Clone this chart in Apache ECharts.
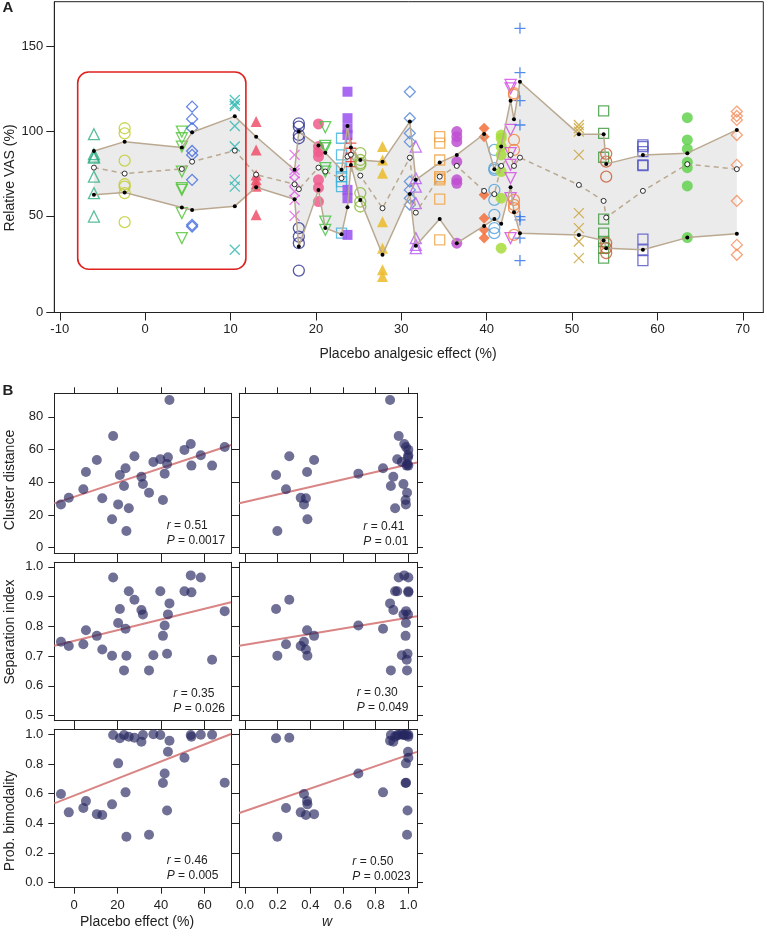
<!DOCTYPE html>
<html><head><meta charset="utf-8">
<script src="https://cdn.jsdelivr.net/npm/echarts@6/dist/echarts.min.js"></script>
<style>html,body{margin:0;padding:0;background:#fff}#c{width:766px;height:933px}</style>
</head><body><div id="c"></div>
<script>
// ---------- DATA ----------
const subjectX = [-6.0, -2.4, 4.3, 5.5, 10.5, 13.0, 17.5, 18.0, 20.3, 21.1, 23.0, 23.7, 24.1, 25.2, 27.8, 31.0, 31.7, 34.5, 36.5, 39.7, 40.9, 41.7, 42.8, 43.2, 43.9, 50.8, 53.7, 54.0, 58.3, 63.5, 69.3];
const vasValues = [
  [98.1, 86.3, 84.9, 84.3, 73.1, 63.4, 49.6],
  [101.6, 98.6, 82.5, 68.6, 67.2, 63.4, 46.3],
  [99.6, 95.7, 90.8, 76.1, 66.3, 65.3, 51.6, 36.9],
  [114.3, 107.1, 101.6, 88.2, 85.9, 71.2, 44.7, 43.7],
  [118.2, 115.9, 114.7, 102.9, 90.8, 71.2, 67.2, 30.0],
  [105.5, 88.8, 74.1, 71.2, 68.8, 67.5, 50.6],
  [85.9, 77.1, 75.1, 70.2, 64.3, 59.4, 50.0],
  [104.5, 102.5, 97.6, 95.7, 42.8, 37.8, 33.9, 17.8],
  [104.1, 90.8, 87.8, 84.9, 71.2, 66.6, 58.4],
  [102.2, 91.2, 89.8, 78.1, 76.1, 46.6, 41.8],
  [95.7, 85.9, 78.1, 73.1, 70.2, 67.2, 39.8],
  [123.1, 107.5, 101.6, 97.6, 65.3, 60.4, 38.8],
  [92.8, 89.8, 86.9, 81.9, 79.0],
  [86.9, 82.9, 81.0, 80.0, 63.4, 58.4, 55.5],
  [90.8, 82.9, 75.1, 46.6, 31.0, 18.2, 14.3],
  [123.1, 107.5, 98.6, 93.7, 70.2, 65.3, 60.4, 56.5],
  [90.8, 72.2, 67.2, 57.5, 36.9, 32.9, 31.0],
  [96.6, 92.8, 82.9, 73.1, 72.2, 71.2, 59.8, 35.9],
  [99.6, 96.6, 93.7, 81.9, 71.2, 69.2, 33.9],
  [101.6, 96.6, 62.4, 48.6, 41.8, 36.9],
  [88.8, 78.1, 77.1, 65.3, 59.4, 50.6, 42.8, 39.8],
  [97.6, 95.7, 90.8, 85.9, 76.1, 60.4, 31.0],
  [127.1, 125.1, 100.6, 86.9, 80.0, 72.2, 60.4, 36.9],
  [122.2, 121.2, 94.7, 88.8, 59.4, 56.5, 54.5, 38.8],
  [160.4, 134.3, 117.8, 103.5, 49.6, 47.6, 36.9, 23.7],
  [103.5, 101.6, 99.6, 85.9, 51.6, 42.8, 34.9, 25.1],
  [111.8, 98.6, 84.5, 48.1, 39.8, 34.9, 31.0, 25.1],
  [86.5, 81.9, 73.1, 33.9, 31.0, 28.1],
  [91.8, 90.8, 87.8, 80.0, 79.6, 36.3, 30.0, 23.7],
  [107.8, 94.7, 89.4, 81.6, 78.4, 67.6, 37.2],
  [111.4, 108.8, 106.5, 97.6, 80.0, 58.8, 32.9, 27.1]
];
const upperMean = [88.2, 93.7, 90.2, 99.2, 108.6, 96.6, 77.1, 99.6, 91.4, 87.2, 77.1, 102.9, 90.2, 82.9, 81.9, 105.5, 71.2, 81.4, 85.9, 98.2, 77.5, 90.8, 117.8, 106.9, 129.0, 98.1, 98.1, 80.6, 85.9, 86.9, 100.6];
const lowerMean = [62.4, 63.7, 54.9, 53.4, 55.7, 66.9, 59.8, 31.9, 65.3, 42.8, 39.2, 55.1, 80.0, 59.4, 27.1, 62.8, 32.4, 48.1, 33.9, 44.1, 48.1, 45.3, 66.9, 52.2, 39.8, 38.8, 35.5, 31.0, 30.0, 37.2, 39.4];
const overallMean = [78.4, 74.9, 77.6, 81.9, 88.4, 74.3, 68.6, 65.7, 78.4, 76.1, 72.2, 84.9, 86.0, 73.7, 54.5, 84.3, 51.9, 73.1, 79.4, 64.7, 62.8, 79.4, 85.9, 79.4, 84.3, 68.2, 58.8, 49.0, 64.7, 80.4, 77.5];
const clusterDist = [26.5, 30.6, 35.7, 46.3, 53.6, 30.2, 17.4, 68.3, 26.5, 44.5, 37.7, 48.6, 10.2, 24.1, 55.9, 43.4, 39.0, 33.6, 52.4, 54.1, 29.2, 45.3, 51.2, 55.3, 90.3, 59.8, 63.4, 50.2, 56.5, 50.2, 61.6];
const sepIndex = [0.748, 0.734, 0.740, 0.787, 0.768, 0.722, 0.701, 0.964, 0.811, 0.858, 0.652, 0.792, 0.701, 0.918, 0.889, 0.855, 0.840, 0.652, 0.703, 0.918, 0.768, 0.803, 0.708, 0.840, 0.877, 0.918, 0.971, 0.914, 0.964, 0.688, 0.851];
const probBimodal = [0.597, 0.473, 0.502, 0.549, 0.461, 0.455, 0.527, 0.995, 0.804, 0.973, 0.995, 0.608, 0.308, 0.984, 0.977, 0.950, 0.995, 0.322, 1.0, 0.995, 0.671, 0.736, 0.486, 0.882, 0.957, 0.842, 0.995, 0.984, 0.997, 0.997, 0.673];
const wWeight = [0.361, 0.341, 0.251, 0.380, 0.423, 0.373, 0.382, 0.941, 0.985, 0.190, 0.893, 0.845, 0.198, 0.919, 0.271, 0.908, 0.970, 0.992, 0.960, 0.932, 0.983, 0.694, 0.995, 0.998, 0.888, 1.0, 0.975, 1.0, 1.0, 0.990, 0.986];
const highlightBox = [-7.9, 134.7, 11.8, 18.6];
const xTicksA = [-10, 0, 10, 20, 30, 40, 50, 60, 70];
const yTicksA = [0, 50, 100, 150];
const placeboTicks = [0, 20, 40, 60];
const wTicks = [0, 0.2, 0.4, 0.6, 0.8, 1.0];
const cdTicks = [0, 20, 40, 60, 80];
const siTicks = [0.5, 0.6, 0.7, 0.8, 0.9, 1.0];
const pbTicks = [0, 0.2, 0.4, 0.6, 0.8, 1.0];
const fitCDPlacebo = [[-9.06, 27.1], [72.2, 62.8]];
const fitCDW = [[-0.035, 27.2], [1.053, 52.1]];
const fitSIPlacebo = [[-9.06, 0.735], [72.2, 0.881]];
const fitSIW = [[-0.035, 0.7345], [1.053, 0.8338]];
const fitPBPlacebo = [[-9.06, 0.534], [72.2, 1.002]];
const fitPBW = [[-0.035, 0.4683], [1.053, 0.8817]];
const statR = ['0.51', '0.41', '0.35', '0.30', '0.46', '0.50'];
const statP = ['0.0017', '0.01', '0.026', '0.049', '0.005', '0.0023'];

// ---------- STYLES ----------
const FF = '"Liberation Sans", Arial, Helvetica, sans-serif';
const TXT = '#222';
const X_PATH = 'path://M0,0L10,10M10,0L0,10';
const PLUS_PATH = 'path://M5,0L5,10M0,5L10,5';
const markerStyles = [
  ['tri', '#2fae85', 0], ['circ', '#bfcc2a', 0], ['dtri', '#4fc434', 0], ['dia', '#3d66e0', 0],
  ['x', '#2db5b0', 0], ['tri', '#f0506a', 1], ['x', '#e055e6', 0], ['circ', '#2a2e8c', 0],
  ['circ', '#f05a8c', 1], ['dtri', '#44c040', 0], ['sq', '#3cb0dc', 0], ['sq', '#9a50f0', 1],
  ['plus', '#e82828', 0], ['circ', '#86b832', 0], ['tri', '#ebbb28', 1], ['dia', '#5085d5', 0],
  ['tri', '#b45af0', 0], ['sq', '#f0a040', 0], ['circ', '#c050d2', 1], ['dia', '#f56e3c', 1],
  ['circ', '#50a0dc', 0], ['circ', '#a8dc3c', 1], ['dtri', '#d246e6', 0], ['circ', '#f0823c', 0],
  ['plus', '#2a6ee6', 0], ['x', '#c8a032', 0], ['sq', '#3c963c', 0], ['circ', '#c85a32', 0],
  ['sq', '#5050c8', 0], ['circ', '#64d250', 1], ['dia', '#f58c5a', 0]
];
const symMap = {tri: 'triangle', dtri: 'triangle', circ: 'circle', sq: 'rect', dia: 'diamond', x: X_PATH, plus: PLUS_PATH};
const sizeMap = {tri: 11, dtri: 11, circ: 11, sq: 10, dia: 11, x: 10, plus: 11};

// ---------- LAYOUT ----------
const gridA = {left: 54.3, top: 1.7, width: 709, height: 310.8};
const xMinA = -10.64, xMaxA = 72.4, yMinA = -6.9, yMaxA = 176.1;
const colsB = [{left: 54.3, width: 176.7}, {left: 239.3, width: 177.7}];
const rowsB = [{top: 393.3, height: 160}, {top: 562.3, height: 158.4}, {top: 729.3, height: 158.4}];

const grids = [Object.assign({show: true, borderColor: TXT, borderWidth: 1}, gridA)];
const xAxes = [], yAxes = [], series = [];

const lineC = '#222';
const tickStyle = {color: lineC, width: 1};
const labelStyle = {fontFamily: FF, fontSize: 13, color: TXT};

xAxes.push({gridIndex: 0, type: 'value', min: xMinA, max: xMaxA, splitLine: {show: false},
  axisLine: {show: true, onZero: false, lineStyle: tickStyle},
  axisTick: {show: true, length: 8, customValues: xTicksA, lineStyle: tickStyle},
  axisLabel: Object.assign({customValues: xTicksA, margin: 10}, labelStyle)});
const yTickPos = yTicksA.map(v => v === 0 ? yMinA : v);
yAxes.push({gridIndex: 0, type: 'value', min: yMinA, max: yMaxA, splitLine: {show: false},
  axisLine: {show: true, onZero: false, lineStyle: tickStyle},
  axisTick: {show: true, length: 8, customValues: yTickPos, lineStyle: tickStyle},
  axisLabel: Object.assign({customValues: yTickPos, margin: 11, formatter: v => v < 0 ? '0' : String(Math.round(v))}, labelStyle)});

// band fill
series.push({type: 'custom', xAxisIndex: 0, yAxisIndex: 0, silent: true, z: 1, clip: false,
  data: [[subjectX[0], upperMean[0]]],
  renderItem: (params, api) => {
    const pts = [];
    for (let i = 0; i < subjectX.length; i++) pts.push(api.coord([subjectX[i], upperMean[i]]));
    for (let i = subjectX.length - 1; i >= 0; i--) pts.push(api.coord([subjectX[i], lowerMean[i]]));
    return {type: 'polygon', shape: {points: pts}, style: {fill: '#ebebeb'}};
  }});

// markers
vasValues.forEach((vals, i) => {
  const [k, col, filled] = markerStyles[i];
  series.push({type: 'scatter', xAxisIndex: 0, yAxisIndex: 0, z: 2, silent: true,
    symbol: symMap[k], symbolSize: sizeMap[k], symbolRotate: k === 'dtri' ? 180 : 0,
    itemStyle: filled ? {color: col, opacity: 0.85} : {color: 'rgba(0,0,0,0)', borderColor: col, borderWidth: 1.3},
    data: vals.map(v => [subjectX[i], v])});
});

// mean lines
const tan = '#baa990';
series.push({type: 'line', xAxisIndex: 0, yAxisIndex: 0, z: 3, silent: true, symbol: 'circle', symbolSize: 4, showSymbol: true,
  lineStyle: {color: tan, width: 1.5}, itemStyle: {color: '#000'},
  data: subjectX.map((x, i) => [x, upperMean[i]])});
series.push({type: 'line', xAxisIndex: 0, yAxisIndex: 0, z: 3, silent: true, symbol: 'circle', symbolSize: 4, showSymbol: true,
  lineStyle: {color: tan, width: 1.5}, itemStyle: {color: '#000'},
  data: subjectX.map((x, i) => [x, lowerMean[i]])});
series.push({type: 'line', xAxisIndex: 0, yAxisIndex: 0, z: 3, silent: true, symbol: 'circle', symbolSize: 5, showSymbol: true,
  lineStyle: {color: tan, width: 1.5, type: [5, 4]}, itemStyle: {color: '#fff', borderColor: '#000', borderWidth: 0.8},
  data: subjectX.map((x, i) => [x, overallMean[i]])});

// highlight box
series.push({type: 'custom', xAxisIndex: 0, yAxisIndex: 0, silent: true, z: 4, clip: false,
  data: [highlightBox],
  renderItem: (params, api) => {
    const p1 = api.coord([api.value(0), api.value(1)]);
    const p2 = api.coord([api.value(2), api.value(3)]);
    return {type: 'rect', shape: {x: p1[0], y: p1[1], width: p2[0] - p1[0], height: p2[1] - p1[1], r: 11},
      style: {fill: 'rgba(0,0,0,0)', stroke: '#e0201e', lineWidth: 1.6}};
  }});

// ---------- PANEL B ----------
const xDefs = [
  {min: -9.06, max: 72.2, ticks: placeboTicks, fmt: v => String(v), vals: subjectX},
  {min: -0.035, max: 1.053, ticks: wTicks, fmt: v => v.toFixed(1), vals: wWeight}
];
const yDefs = [
  {min: -3.4, max: 94.4, ticks: cdTicks, fmt: v => String(v), vals: clusterDist, fits: [fitCDPlacebo, fitCDW]},
  {min: 0.483, max: 1.015, ticks: siTicks, fmt: v => v.toFixed(1), vals: sepIndex, fits: [fitSIPlacebo, fitSIW]},
  {min: -0.036, max: 1.034, ticks: pbTicks, fmt: v => v.toFixed(1), vals: probBimodal, fits: [fitPBPlacebo, fitPBW]}
];
const statPos = [[166.7, 518.5], [363.3, 518.8], [173.3, 686], [356.7, 685.5], [166.7, 852.8], [352.3, 854.5]];
const graphics = [];
let g = 1;
rowsB.forEach((row, r) => {
  colsB.forEach((col, c) => {
    grids.push({left: col.left, width: col.width, top: row.top, height: row.height, show: false});
    const xd = xDefs[c], yd = yDefs[r];
    const xi = xAxes.length, yi = yAxes.length;
    const mk = (pos, showLab, d) => ({gridIndex: g, type: 'value', position: pos, min: d.min, max: d.max,
      splitLine: {show: false}, axisLine: {show: true, onZero: false, lineStyle: tickStyle},
      axisTick: {show: true, length: 6, customValues: d.ticks, lineStyle: tickStyle},
      axisLabel: Object.assign({show: showLab, customValues: d.ticks, formatter: d.fmt, margin: 11}, labelStyle)});
    xAxes.push(mk('bottom', r === 2, xd));
    xAxes.push(mk('top', false, xd));
    yAxes.push(mk('left', c === 0, yd));
    yAxes.push(mk('right', false, yd));
    series.push({type: 'line', xAxisIndex: xi, yAxisIndex: yi, silent: true, symbol: 'none', z: 2,
      lineStyle: {color: '#d98585', width: 2}, data: yd.fits[c]});
    series.push({type: 'scatter', xAxisIndex: xi, yAxisIndex: yi, silent: true, symbolSize: 10, z: 3,
      itemStyle: {color: '#262660', opacity: 0.66},
      data: xd.vals.map((x, i) => [x, yd.vals[i]])});
    const idx = r * 2 + c;
    graphics.push({type: 'text', x: statPos[idx][0], y: statPos[idx][1],
      style: {text: '{i|r} = ' + statR[idx] + '\n{i|P} = ' + statP[idx], fontFamily: FF, fontSize: 12, lineHeight: 15, fill: TXT,
        rich: {i: {fontStyle: 'italic', fontFamily: FF, fontSize: 12, lineHeight: 15}}}});
    g++;
  });
});

const tt = (text, x, y, opts) => Object.assign({type: 'text', x: x, y: y,
  style: Object.assign({text: text, fontFamily: FF, fontSize: 14, fill: TXT, align: 'center', verticalAlign: 'middle'}, (opts && opts.style) || {})},
  opts && opts.rotation ? {rotation: opts.rotation} : {});
graphics.push(tt('A', 8, 8, {style: {fontWeight: 'bold', fontSize: 15}}));
graphics.push(tt('B', 8, 391, {style: {fontWeight: 'bold', fontSize: 15}}));
graphics.push(tt('Relative VAS (%)', 10, 178, {rotation: Math.PI / 2}));
graphics.push(tt('Placebo analgesic effect (%)', 408, 354));
graphics.push(tt('Cluster distance', 10, 480, {rotation: Math.PI / 2}));
graphics.push(tt('Separation index', 10, 632, {rotation: Math.PI / 2}));
graphics.push(tt('Prob. bimodality', 10, 821, {rotation: Math.PI / 2}));
graphics.push(tt('Placebo effect (%)', 137, 922));
graphics.push(tt('w', 327, 922, {style: {fontStyle: 'italic'}}));

const chart = echarts.init(document.getElementById('c'), null, {renderer: 'canvas'});
chart.setOption({
  animation: false,
  backgroundColor: '#fff',
  grid: grids, xAxis: xAxes, yAxis: yAxes, series: series, graphic: graphics
});
</script></body></html>
